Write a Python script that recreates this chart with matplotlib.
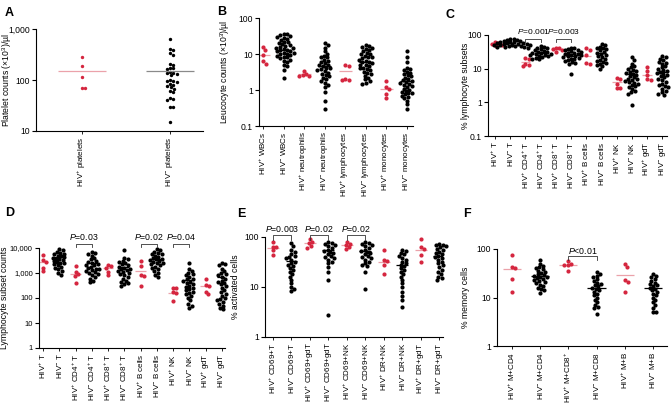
import numpy as np
import matplotlib
matplotlib.use("Agg")
import matplotlib.pyplot as plt
from matplotlib.ticker import NullLocator

plt.rcParams['font.family'] = ['Liberation Sans', 'DejaVu Sans']
plt.rcParams['mathtext.fontset'] = 'custom'
plt.rcParams['mathtext.rm'] = 'Liberation Sans'
plt.rcParams['mathtext.it'] = 'Liberation Sans:italic'
plt.rcParams['mathtext.bf'] = 'Liberation Sans:bold'

RED = '#d5263f'
PINK = '#eba2aa'

# ---------------- data ----------------
# A: platelets
a_labels = ['HIV$^{+}$ platelets', 'HIV$^{-}$ platelets']
a_values = [
    [288, 189, 113, 71, 71],
    [630, 410, 380, 340, 310, 210, 200, 175, 170, 165, 145, 140, 135, 130, 125, 100,
     97, 95, 92, 85, 80, 75, 72, 68, 62, 58, 45, 43, 40, 29, 29, 15],
]
a_means = [148, 148]

# B: leucocytes
b_labels = ['HIV$^{+}$ WBCs', 'HIV$^{-}$ WBCs', 'HIV$^{+}$ neutrophils', 'HIV$^{-}$ neutrophils',
            'HIV$^{+}$ lymphocytes', 'HIV$^{-}$ lymphocytes', 'HIV$^{+}$ monocytes', 'HIV$^{-}$ monocytes']
b_values = [
    [15.3, 12.6, 9.6, 6.2, 5.3],
    [35, 35, 33, 31, 30, 28, 26, 24, 22, 21, 20, 19, 18, 17, 16, 15, 15, 14, 13, 13,
     12, 12, 11, 11, 10, 10, 9.5, 9, 8.5, 8, 7.5, 7, 6.5, 6, 5, 4.5, 3.5, 2.2],
    [3.4, 2.8, 2.6, 2.5, 2.5],
    [20, 18, 15, 12, 10, 9, 8.5, 8, 7, 6.5, 6, 5.5, 5, 5, 4.5, 4.2, 4, 3.8, 3.5, 3.3,
     3, 2.8, 2.6, 2.4, 2.2, 2, 1.8, 1.6, 1.4, 1.2, 0.9, 0.5, 0.3],
    [4.8, 4.5, 2.0, 1.9, 1.9],
    [18, 17, 16, 15, 14, 13, 12, 11, 10, 10, 9, 8.5, 8, 7.5, 7, 6.5, 6, 6, 5.5, 5, 5,
     4.5, 4.2, 4, 3.8, 3.5, 3.2, 3, 2.8, 2.5, 2.2, 2, 1.8, 1.6, 1.5],
    [1.8, 1.24, 1.04, 0.76, 0.61],
    [12, 8.5, 6, 4, 3.8, 3.5, 3.2, 3, 2.8, 2.6, 2.4, 2.2, 2, 1.9, 1.8, 1.7, 1.6, 1.5,
     1.4, 1.3, 1.2, 1.1, 1, 0.95, 0.9, 0.85, 0.8, 0.75, 0.7, 0.65, 0.6, 0.5, 0.4, 0.3],
]
b_means = [9.2, 13.2, 2.7, 4.5, 3.3, 6.0, 1.07, 1.8]

# C: % lymphocyte subsets
c_labels = ['HIV$^{+}$ T', 'HIV$^{-}$ T', 'HIV$^{+}$ CD4$^{+}$ T', 'HIV$^{-}$ CD4$^{+}$ T',
            'HIV$^{+}$ CD8$^{+}$ T', 'HIV$^{-}$ CD8$^{+}$ T', 'HIV$^{+}$ B cells', 'HIV$^{-}$ B cells',
            'HIV$^{+}$ NK', 'HIV$^{-}$ NK', 'HIV$^{+}$ gdT', 'HIV$^{-}$ gdT']
c_values = [
    [60, 58, 55, 52, 48],
    [78, 75, 72, 70, 68, 65, 63, 62, 60, 58, 57, 56, 55, 54, 53, 52, 51, 50, 49, 48,
     47, 46, 45, 44, 43, 42],
    [21, 19, 14, 13, 12],
    [48, 45, 42, 40, 38, 36, 34, 32, 31, 30, 29, 28, 27, 26, 25, 24, 23, 22, 21, 20, 19],
    [42, 40, 38, 35, 31],
    [42, 40, 38, 36, 35, 33, 32, 30, 29, 28, 27, 26, 25, 24, 23, 22, 21, 20, 19, 18,
     17, 16, 15, 14, 7],
    [40, 35, 25, 15, 14],
    [55, 50, 45, 42, 40, 38, 35, 32, 30, 28, 26, 24, 22, 20, 18, 17, 16, 15, 14, 13, 12, 10],
    [5.3, 4.8, 3.4, 2.7, 2.6],
    [22, 18, 14, 12, 11, 10, 9, 8.5, 8, 7.5, 7, 6.5, 6, 5.5, 5, 4.8, 4.5, 4.2, 4, 3.8,
     3.5, 3.2, 3, 2.8, 2.5, 2.2, 2, 1.8, 0.85],
    [11, 8.5, 6.5, 5, 4.5],
    [24, 22, 20, 18, 16, 15, 14, 12, 11, 10, 9, 8.5, 8, 7.5, 7, 6.5, 6, 5.5, 5, 4.5,
     4, 3.5, 3.2, 3, 2.8, 2.5, 2.2, 2, 1.8, 1.7],
]
c_means = [55, 57, 16, 30, 38, 24, 24, 29, 3.9, 7, 6.7, 8]

# D: lymphocyte subset counts
d_labels = c_labels
d_values = [
    [5200, 3280, 2820, 1630, 1200],
    [9000, 8000, 7000, 6500, 6000, 5500, 5000, 4700, 4400, 4100, 3800, 3500, 3200, 3000,
     2800, 2600, 2400, 2200, 2000, 1800, 1600, 1400, 1200, 1000, 800],
    [1900, 1130, 910, 760, 390],
    [7000, 6500, 6000, 5000, 4000, 3500, 3000, 2700, 2500, 2300, 2100, 2000, 1800, 1600,
     1500, 1400, 1300, 1200, 1100, 1000, 900, 800, 700, 600, 500, 420],
    [2080, 1960, 1630, 1130, 830],
    [8500, 4000, 3500, 3000, 2700, 2400, 2200, 2000, 1800, 1600, 1500, 1400, 1300, 1200,
     1100, 1000, 900, 800, 700, 600, 500, 450, 400, 350, 300],
    [3100, 1900, 830, 780, 290],
    [9000, 8000, 7000, 6500, 6000, 5500, 5000, 4500, 4000, 3800, 3500, 3200, 3000, 2800,
     2600, 2400, 2200, 2000, 1800, 1600, 1400, 1200, 1000, 800, 700],
    [260, 245, 180, 165, 77],
    [2500, 1500, 1200, 1000, 900, 800, 700, 600, 550, 500, 450, 400, 350, 300, 280, 250,
     220, 200, 180, 160, 140, 120, 100, 80, 60, 50, 40],
    [560, 320, 300, 180, 140],
    [2500, 2300, 2000, 1500, 1200, 1000, 900, 800, 700, 600, 500, 450, 400, 350, 300, 250,
     200, 180, 150, 120, 100, 90, 80, 70, 60, 50, 40, 35],
]
d_means = [2800, 4500, 900, 2400, 1650, 1800, 1250, 3600, 165, 530, 310, 680]

# E: % activated cells
e_labels = ['HIV$^{+}$ CD69+T', 'HIV$^{-}$ CD69+T', 'HIV$^{+}$ CD69+gdT', 'HIV$^{-}$ CD69+gdT',
            'HIV$^{+}$ CD69+NK', 'HIV$^{-}$ CD69+NK', 'HIV$^{+}$ DR+NK', 'HIV$^{-}$ DR+NK',
            'HIV$^{+}$ DR+gdT', 'HIV$^{-}$ DR+gdT']
e_values = [
    [79, 63, 63, 54, 44],
    [75, 65, 55, 50, 45, 42, 40, 38, 35, 32, 30, 28, 26, 24, 22, 20, 18, 16, 14, 12, 10, 9, 8.5],
    [90, 79, 76, 66, 61],
    [78, 75, 72, 70, 65, 60, 56, 52, 50, 48, 45, 42, 40, 38, 35, 32, 30, 25, 20, 14, 2.8],
    [79, 74, 68, 63, 58],
    [78, 75, 72, 70, 65, 60, 56, 52, 50, 48, 45, 42, 40, 38, 35, 32, 30, 28, 26, 20, 9],
    [54, 34, 33, 28, 18],
    [55, 52, 48, 45, 42, 38, 35, 32, 30, 28, 26, 24, 22, 20, 18, 16, 14, 12, 10, 8, 6.5, 5.5, 4],
    [93, 63, 58, 44, 31],
    [72, 70, 68, 65, 62, 58, 55, 50, 48, 45, 42, 40, 38, 35, 32, 30, 28, 25, 22, 20, 18, 16, 15, 14],
]
e_means = [60, 33, 76, 54, 70, 52, 32, 27, 56, 42]

# F: % memory cells
f_labels = ['HIV$^{+}$ M+CD4', 'HIV$^{-}$ M+CD4', 'HIV$^{+}$ M+CD8$^{+}$', 'HIV$^{-}$ M+CD8',
            'HIV$^{+}$ M+B', 'HIV$^{-}$ M+B']
f_values = [
    [75, 43, 41, 24, 13],
    [60, 50, 45, 42, 40, 38, 36, 34, 32, 30, 29, 28, 27, 26, 25, 24, 23, 22, 21, 20, 18,
     17, 16, 15, 14, 12.5],
    [56, 50, 47, 47, 35],
    [33, 30, 28, 26, 24, 22, 20, 19, 18, 17, 16, 15, 14, 13, 12, 11, 10, 9, 8, 7, 6.5, 6, 4.5],
    [48, 43, 23, 21, 13],
    [30, 28, 26, 24, 22, 20, 19, 18, 17, 16, 15, 14, 13, 12, 11, 10, 9, 8, 7, 6, 5, 5],
]
f_means = [39, 28, 47, 16, 29, 16]

# significance brackets: (group i, group j, label)
c_pvals = [(2, 3, '=0.001'), (4, 5, '=0.003')]
d_pvals = [(2, 3, '=0.03'), (6, 7, '=0.02'), (8, 9, '=0.04')]
e_pvals = [(0, 1, '=0.003'), (2, 3, '=0.02'), (4, 5, '=0.02')]
f_pvals = [(2, 3, '<0.01')]

W, H = 672, 403
fig = plt.figure(figsize=(W / 100, H / 100), dpi=100)


def make_axes(l, r, t, b):
    return fig.add_axes([l / W, 1 - b / H, (r - l) / W, (b - t) / H])


def swarm_x(ax, x0, vals, d):
    # simple beeswarm in pixel space
    pts = ax.transData.transform(np.column_stack([np.full(len(vals), float(x0)), vals]))
    ys = pts[:, 1]
    order = np.argsort(-ys)
    cands = [0.0]
    for k in range(1, 60):
        cands += [k * d * 0.25, -k * d * 0.25]
    placed = []
    offs = np.zeros(len(vals))
    for i in order:
        y = ys[i]
        for c in cands:
            if all((c - px) ** 2 + (y - py) ** 2 >= d * d for px, py in placed):
                break
        placed.append((c, y))
        offs[i] = c
    back = ax.transData.inverted().transform(np.column_stack([pts[:, 0] + offs, ys]))
    return back[:, 0]


def panel(rect, labels, values, means, ylim, yticks, yticklabels, ylabel, label_x, xlim,
          letter, letter_xy, pvals=None, pv_y=None, dot=9, dotpx=3.3,
          neg_line='black', lw_half=0.32, pfs=6.3, yfs=6.2):
    ax = make_axes(*rect)
    ax.set_yscale('log')
    ax.set_ylim(*ylim)
    ax.set_xlim(*xlim)
    for i, vals in enumerate(values):
        pos = i % 2 == 0
        xs = swarm_x(ax, i, vals, dotpx)
        ax.scatter(xs, vals, s=dot, color=RED if pos else 'black', lw=0, zorder=3,
                   clip_on=False)
        ax.plot([i - lw_half, i + lw_half], [means[i], means[i]],
                color=PINK if pos else neg_line, lw=0.9, zorder=4 if not pos else 2,
                solid_capstyle='butt')
    ax.set_xticks(range(len(labels)))
    ax.set_xticklabels(labels, rotation=90, fontsize=5.8)
    ax.set_yticks(yticks)
    ax.set_yticklabels(yticklabels, fontsize=yfs)
    ax.yaxis.set_minor_locator(NullLocator())
    ax.set_ylabel(ylabel, fontsize=6.2, va='center')
    ax.yaxis.set_label_coords((label_x - rect[0]) / (rect[1] - rect[0]), 0.5)
    for s in ['top', 'right']:
        ax.spines[s].set_visible(False)
    for s in ['left', 'bottom']:
        ax.spines[s].set_linewidth(0.8)
    ax.tick_params(axis='y', length=3, width=0.8, pad=1.5)
    ax.tick_params(axis='x', length=2, width=0.6, pad=2)
    if pvals:
        yb, ydrop, ytxt = pv_y
        for i, j, txt in pvals:
            ax.plot([i, i, j, j], [ydrop, yb, yb, ydrop], color='#333333', lw=0.6,
                    clip_on=False, zorder=5)
            ax.text((i + j) / 2, ytxt, '$P$' + txt, ha='center', va='center',
                    fontsize=pfs, clip_on=False)
    fig.text(letter_xy[0] / W, 1 - letter_xy[1] / H, letter, fontsize=9,
             fontweight='bold', ha='left', va='center')
    return ax


panel((36, 203, 29, 131), a_labels, a_values, a_means, (10, 1000), [10, 100, 1000],
      ['10', '100', '1,000'], 'Platelet counts (×10$^3$)/µl', 7, (-0.52, 1.375),
      'A', (5, 13), dot=6, dotpx=3.3, neg_line='#8a8a8a', lw_half=0.27)

panel((259, 413, 18, 126), b_labels, b_values, b_means, (0.1, 100), [0.1, 1, 10, 100],
      ['0.1', '1', '10', '100'], 'Leucocyte counts (×10$^3$)/µl', 225, (-0.2, 7.3),
      'B', (217, 12))

panel((488, 667, 35, 136), c_labels, c_values, c_means, (0.1, 100), [0.1, 1, 10, 100],
      ['0.1', '1', '10', '100'], '% lymphocyte subsets', 465, (-0.46, 11.3),
      'C', (446, 15), pvals=c_pvals, pv_y=(74, 60, 130), pfs=6.0)

panel((39, 225, 248, 348), d_labels, d_values, d_means, (1, 10000), [1, 10, 100, 1000, 10000],
      ['1', '10', '100', '1,000', '10,000'], 'Lymphocyte subset counts', 4.5, (-0.25, 11.2),
      'D', (5, 213), pvals=d_pvals, pv_y=(14800, 11000, 28000), yfs=5.5)

panel((265, 443, 237, 337), e_labels, e_values, e_means, (1, 100), [1, 10, 100],
      ['1', '10', '100'], '% activated cells', 236, (-0.43, 9.2),
      'E', (237, 214), pvals=e_pvals, pv_y=(111, 88, 145))

panel((497, 667, 249, 346), f_labels, f_values, f_means, (1, 100), [1, 10, 100],
      ['1', '10', '100'], '% memory cells', 465, (-0.53, 5.5),
      'F', (463, 214), pvals=f_pvals, pv_y=(72, 60, 92))

fig.savefig('out.png', dpi=100)
